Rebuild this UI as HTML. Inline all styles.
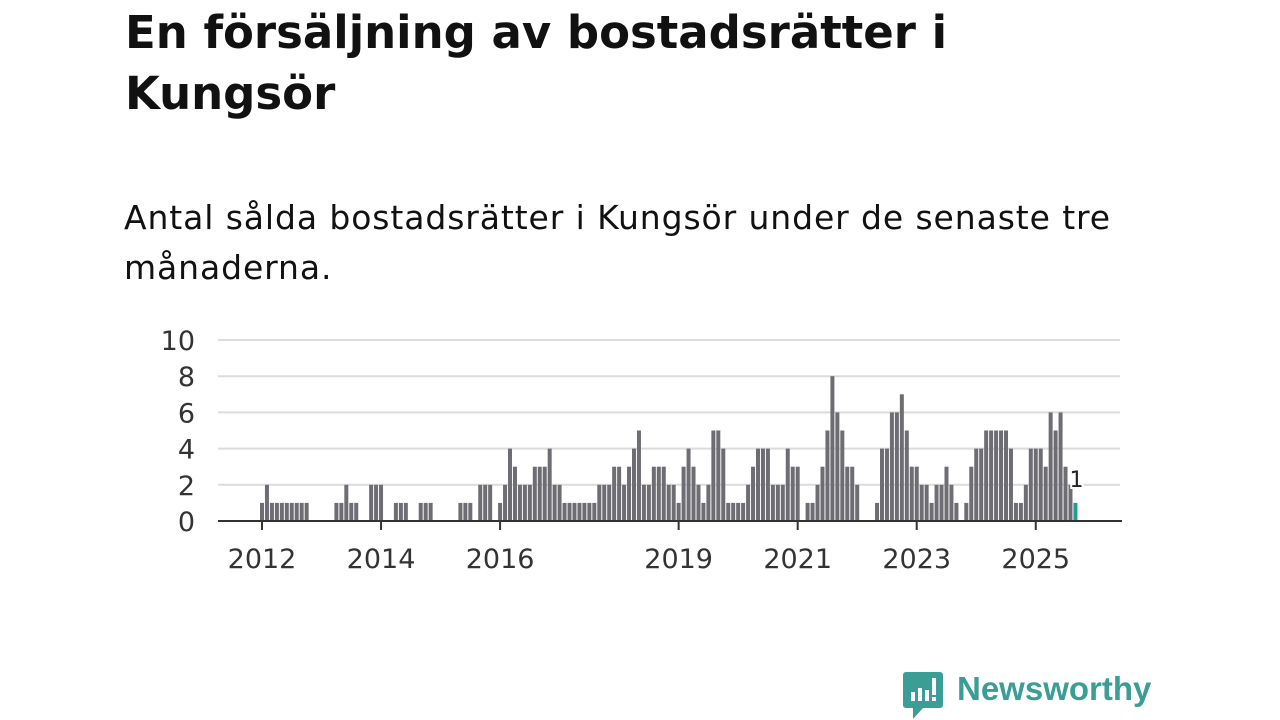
<!DOCTYPE html>
<html><head><meta charset="utf-8"><style>
body{margin:0;width:1280px;height:720px;background:#fff;overflow:hidden;font-family:"DejaVu Sans","Liberation Sans",sans-serif;}
#title{position:absolute;left:125px;top:2px;font-size:45px;font-weight:bold;line-height:61px;color:#111;margin:0;letter-spacing:0px;}
#sub{position:absolute;left:124px;top:193px;font-size:33px;line-height:50px;color:#111;margin:0;letter-spacing:0.9px;}
#chart{position:absolute;left:0;top:0;}
#logo{position:absolute;left:903px;top:672px;}
#logotext{position:absolute;left:957px;top:670px;font-size:33px;font-weight:bold;color:#3a9d96;font-family:"Liberation Sans",sans-serif;}
</style></head><body>
<h1 id="title">En försäljning av bostadsrätter i<br>Kungsör</h1>
<p id="sub">Antal sålda bostadsrätter i Kungsör under de senaste tre<br>månaderna.</p>
<svg id="chart" width="1280" height="720"></svg>
<svg id="logo" width="40" height="48" viewBox="0 0 40 48">
<path d="M3 0H37a3 3 0 0 1 3 3V33a3 3 0 0 1-3 3H20L10 47V36H3a3 3 0 0 1-3-3V3a3 3 0 0 1 3-3z" fill="#3a9d96"/>
<rect x="8" y="20" width="4" height="9" fill="#fff"/><rect x="15" y="16" width="4" height="13" fill="#fff"/><rect x="22" y="18" width="4" height="11" fill="#fff"/><rect x="29" y="6" width="4" height="17" fill="#fff"/><rect x="29" y="25" width="4" height="4" fill="#fff"/>
</svg>
<div id="logotext">Newsworthy</div>
<script>
const values = [1,2,1,1,1,1,1,1,1,1, 0,0,0,0,0,1,1,2,1,1, 0,0,2,2,2,0,0,1,1,1,
0,0,1,1,1,0,0,0,0,0, 1,1,1,0,2,2,2,0,1,2, 4,3,2,2,2,3,3,3,4,2,
2,1,1,1,1,1,1,1,2,2, 2,3,3,2,3,4,5,2,2,3, 3,3,2,2,1,3,4,3,2,1,
2,5,5,4,1,1,1,1,2,3, 4,4,4,2,2,2,4,3,3,0, 1,1,2,3,5,8,6,5,3,3,
2,0,0,0,1,4,4,6,6,7, 5,3,3,2,2,1,2,2,3,2, 1,0,1,3,4,4,5,5,5,5,
5,4,1,1,2,4,4,4,3,6, 5,6,3,2,1];
const yTicks = [0,2,4,6,8,10];
const xTickLabels = ["2012","2014","2016","2019","2021","2023","2025"];
const xTickMonths = [0,24,48,84,108,132,156];
const lastLabel = "1";

const svg = document.getElementById('chart');
const NS = 'http://www.w3.org/2000/svg';
const x0 = 262, step = 4.96, yBase = 521, unit = 18.1;
const FONT = 'DejaVu Sans, Liberation Sans, sans-serif';
const xs = m => x0 + m*step;
const ys = v => yBase - v*unit;
function mk(tag, attrs){const e=document.createElementNS(NS,tag);for(const k in attrs)e.setAttribute(k,attrs[k]);svg.appendChild(e);return e;}
yTicks.forEach(t=>{
  if(t>0){const g=mk('line',{x1:218,x2:1120,y1:ys(t),y2:ys(t),stroke:'#dcdcdc','stroke-width':2});
  
  }
  const l=mk('text',{x:195,y:ys(t)+10,'text-anchor':'end','font-size':27,fill:'#333','font-family':FONT});
  l.textContent=t;
  
  
});
values.forEach((v,i)=>{
  if(v<=0)return;
  const last=i===values.length-1;
  const r=mk('rect',{x:xs(i)-2,y:ys(v),width:4,height:v*unit,fill:last?'#1a9e96':'#6e6d74'});
  
  
});
const ax=mk('line',{x1:218,x2:1122,y1:yBase,y2:yBase,stroke:'#333','stroke-width':2});


xTickLabels.forEach((lab,i)=>{
  const x=xs(xTickMonths[i]);
  const t=mk('line',{x1:x,x2:x,y1:yBase,y2:yBase+9,stroke:'#333','stroke-width':2});
  
  
  const l=mk('text',{x:x,y:568,'text-anchor':'middle','font-size':27,fill:'#333','font-family':FONT});
  l.textContent=lab;
  
  
});
const li=values.length-1;
const vl=mk('text',{x:xs(li)+1,y:ys(values[li])-16,'text-anchor':'middle','font-size':22,fill:'#222',stroke:'#fff','stroke-width':4,'paint-order':'stroke','font-family':FONT});
vl.textContent=lastLabel;


</script>
</body></html>
